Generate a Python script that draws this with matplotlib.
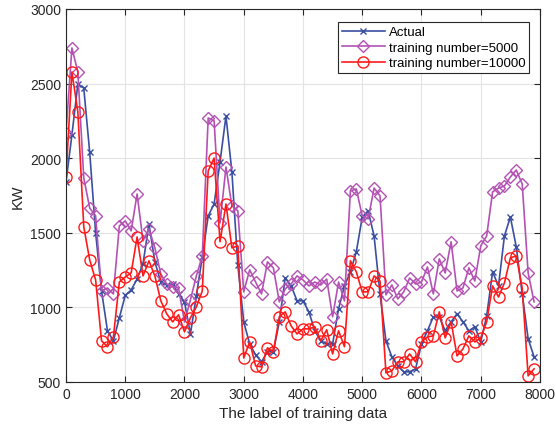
import matplotlib
matplotlib.use('Agg')
import matplotlib.pyplot as plt
import numpy as np

plt.rcParams['font.family'] = ['Liberation Sans', 'DejaVu Sans']

# sample labels, every 100 from 0 to 7900
labels = np.arange(0, 8000, 100)

actual = [1840, 2156, 2497, 2470, 2040, 1500, 1110, 843, 776, 930,
          1080, 1117, 1190, 1292, 1560, 1305, 1170, 1150, 1157, 1090,
          1037, 822, 1077, 1338, 1613, 1693, 1975, 2283, 1908, 1285,
          903, 755, 682, 635, 702, 703, 903, 1198, 1144, 1044,
          1044, 970, 843, 776, 755, 755, 990, 1144, 1238, 1372,
          1606, 1647, 1479, 1090, 776, 668, 608, 568, 568, 588,
          755, 843, 937, 937, 843, 903, 957, 903, 843, 870,
          769, 943, 1238, 1144, 1479, 1606, 1405, 1090, 790, 668]

pred_5000 = [2169, 2739, 2578, 1867, 1666, 1613, 1110, 1130, 1090, 1546,
             1580, 1513, 1760, 1446, 1526, 1399, 1224, 1157, 1137, 1130,
             903, 1050, 1211, 1345, 2270, 2250, 1566, 1941, 1680, 1647,
             1104, 1252, 1170, 1090, 1305, 1265, 1037, 1124, 1157, 1211,
             1184, 1144, 1170, 1150, 1190, 937, 1170, 1044, 1781, 1794,
             1613, 1593, 1800, 1747, 1084, 1150, 1057, 1104, 1197, 1157,
             1170, 1271, 1090, 1325, 1231, 1440, 1110, 1130, 1265, 1177,
             1412, 1479, 1774, 1800, 1814, 1874, 1921, 1827, 1231, 1037]

pred_10000 = [1874, 2578, 2310, 1540, 1318, 1184, 776, 736, 802, 1170,
              1204, 1231, 1472, 1211, 1312, 1211, 1044, 957, 903, 950,
              836, 930, 1003, 1110, 1915, 2001, 1440, 1693, 1399, 1412,
              661, 769, 608, 601, 729, 702, 937, 970, 876, 822,
              856, 856, 870, 776, 850, 688, 843, 736, 1312, 1238,
              1104, 1104, 1211, 1177, 561, 575, 635, 635, 688, 635,
              769, 802, 809, 970, 796, 903, 675, 722, 809, 769,
              796, 903, 1144, 1070, 1164, 1332, 1345, 1130, 541, 588]

fig = plt.figure(figsize=(5.56, 4.31), dpi=100)
ax = fig.add_axes([0.1187, 0.1114, 0.8525, 0.8654])

ax.plot(labels, actual, color='#3a4fa0', marker='x', markersize=5,
        linewidth=1.2, label='Actual')
ax.plot(labels, pred_5000, color='#b452b4', marker='D', markersize=6.5,
        markerfacecolor='none', linewidth=1.2, label='training number=5000')
ax.plot(labels, pred_10000, color='#ff1a1a', marker='o', markersize=8,
        markerfacecolor='none', linewidth=1.2, label='training number=10000')

ax.set_xlim(0, 8000)
ax.set_ylim(500, 3000)
ax.set_xticks(np.arange(0, 8001, 1000))
ax.set_yticks(np.arange(500, 3001, 500))
ax.grid(True, color='#e3e3e3', linewidth=0.8)
ax.set_axisbelow(True)
ax.tick_params(direction='in', top=True, right=True, labelsize=10,
               colors='#262626', length=4)
for s in ax.spines.values():
    s.set_color('#262626')
    s.set_linewidth(0.8)

ax.set_xlabel('The label of training data', fontsize=11, color='#262626')
ax.set_ylabel('KW', fontsize=11, color='#262626')

leg = ax.legend(loc='upper right', bbox_to_anchor=(0.977, 0.965), fontsize=9.5,
                fancybox=False, framealpha=1, edgecolor='#262626',
                borderpad=0.3, handlelength=3.2, labelspacing=0.25,
                handletextpad=0.3, borderaxespad=0)
leg.get_frame().set_linewidth(0.8)

fig.savefig('out.png', dpi=100)
